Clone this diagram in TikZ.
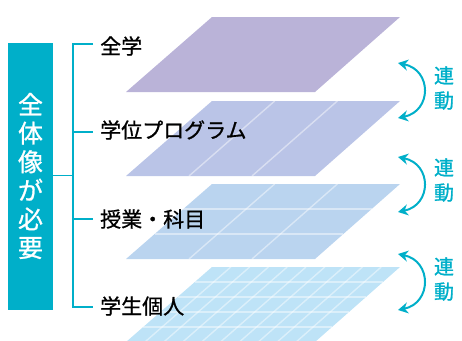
\documentclass[tikz,border=0pt]{standalone}
\usepackage{fontspec}
\setmainfont{Noto Sans CJK JP}
\newfontfamily\medfont[FakeBold=0.9]{Noto Sans CJK JP}
\usetikzlibrary{arrows.meta}
\definecolor{teal}{HTML}{00AFC9}
\definecolor{planeA}{HTML}{BAB3D8}
\definecolor{planeB}{HTML}{BAC4E7}
\definecolor{planeC}{HTML}{BAD4EF}
\definecolor{planeD}{HTML}{BEE3F7}
\tikzset{
  gridline/.style={white, opacity=0.45, line width=1.4pt},
  label/.style={anchor=west, inner sep=0pt, font=\medfont\fontsize{21}{21}\selectfont, text=black},
  linkarrow/.style={teal, line width=2pt, {Stealth[length=10pt,width=11pt]}-{Stealth[length=10pt,width=11pt]}},
  linktext/.style={text=teal, align=center, inner sep=0pt, font=\medfont\fontsize{20}{25}\selectfont},
  bracket/.style={teal, line width=1.6pt}
}
\begin{document}
\begin{tikzpicture}[x=1pt,y=-1pt]
\useasboundingbox (0,0) rectangle (462,340);
% planes: top-left (212,t), top-right (400,t), bottom-right (315,t+75), bottom-left (126,t+75)
\newcommand{\plane}[5]{% top y, colour, cols, rows
  \fill[#2] (212,#1) -- (400,#1) -- (315,#1+75) -- (126,#1+75) -- cycle;
  \ifnum#3>1
    \foreach \i in {1,...,\numexpr#3-1\relax}{
      \draw[gridline] ({212+188*\i/#3},#1) -- ({126+189*\i/#3},#1+75);
    }
  \fi
  \ifnum#4>1
    \foreach \j in {1,...,\numexpr#4-1\relax}{
      \draw[gridline] ({212-86*\j/#4},{#1+75*\j/#4}) -- ({400-85*\j/#4},{#1+75*\j/#4});
    }
  \fi
}
\plane{17}{planeA}{1}{1}{}
\plane{101}{planeB}{3}{1}{}
\plane{184}{planeC}{3}{3}{}
\plane{267}{planeD}{10}{5}{}
% left box
\node[fill=teal, minimum width=45pt, minimum height=267pt, inner sep=0pt] (box) at (30.5,176.5) {};
\node[text=white, align=center, inner sep=0pt, font=\medfont\fontsize{25}{28.6}\selectfont] (boxtext) at (30.5,176) {全\\体\\像\\が\\必\\要};
% bracket
\coordinate (bt) at (73,44);
\coordinate (bb) at (73,307);
\coordinate (bm) at (73,175.5);
\coordinate (t1) at (93,44);
\coordinate (t2) at (93,132);
\coordinate (t3) at (93,219);
\coordinate (t4) at (93,307);
\draw[bracket] (t1) -- (bt) -- (bb) -- (t4);
\draw[bracket] (bm) -- (t2 -| bm) -- (t2);
\draw[bracket] (t3 -| bm) -- (t3);
\draw[bracket] (box.east |- bm) -- (bm);
% labels
\node[label] (l1) at (100,46) {全学};
\node[label] (l2) at (100,130) {学位プログラム};
\node[label] (l3) at (100,219) {授業・科目};
\node[label] (l4) at (100,306) {学生個人};
% link arrows
\coordinate (a1t) at (398,63);  \coordinate (a1b) at (398,118);
\coordinate (a2t) at (398,157); \coordinate (a2b) at (398,212);
\coordinate (a3t) at (398,254); \coordinate (a3b) at (398,310);
\draw[linkarrow] (a1t) .. controls (432,70) and (432,111) .. (a1b);
\draw[linkarrow] (a2t) .. controls (432,164) and (432,205) .. (a2b);
\draw[linkarrow] (a3t) .. controls (432,261) and (432,303) .. (a3b);
\node[linktext] (k1) at (444,88) {連\\動};
\node[linktext] (k2) at (444,180) {連\\動};
\node[linktext] (k3) at (444,279) {連\\動};
\end{tikzpicture}
\end{document}
